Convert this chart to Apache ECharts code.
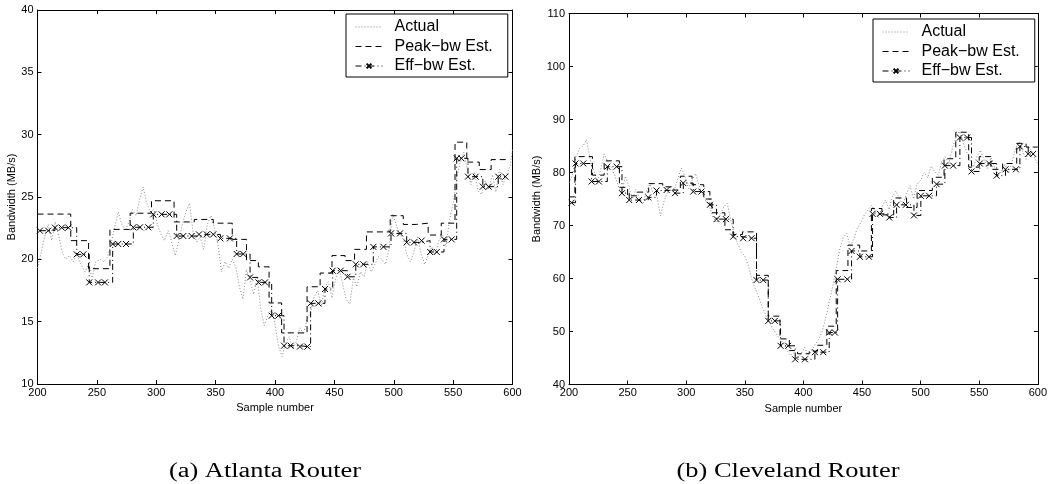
<!DOCTYPE html>
<html>
<head>
<meta charset="utf-8">
<script src="https://cdn.jsdelivr.net/npm/echarts@6/dist/echarts.min.js"></script>
<style>
  html, body { margin: 0; padding: 0; background: #fff; }
  #chart { width: 1050px; height: 484px; }
</style>
</head>
<body>
<div id="chart"></div>
<script>
  // sample range shared by both panels
  const xMin = 200, xMax = 600, xStep = 50

  // (a) Atlanta router
  const atlActual = [
    [200, 19.3], [203, 20.5], [206, 21.8], [209, 22.8], [212, 21.5], [215, 23.0], [218, 21.8], [221, 20.5],
    [224, 20.0], [227, 20.3], [230, 19.8], [233, 20.4], [236, 19.7], [240, 19.0], [243, 19.6], [246, 18.5],
    [249, 19.8], [253, 20.0], [256, 19.8], [259, 20.2], [262, 21.3], [265, 22.6], [268, 23.8], [271, 22.8],
    [274, 22.3], [277, 23.0], [280, 24.0], [283, 23.5], [286, 24.8], [289, 25.8], [292, 24.5], [295, 23.8],
    [298, 24.0], [301, 22.8], [304, 22.0], [307, 21.5], [310, 22.3], [313, 21.4], [316, 20.3], [319, 21.5],
    [322, 22.8], [325, 23.8], [328, 24.5], [331, 22.2], [334, 21.4], [337, 21.8], [340, 20.8], [343, 22.8],
    [346, 23.5], [349, 22.5], [352, 21.2], [355, 19.0], [358, 19.8], [361, 19.3], [364, 20.0], [367, 19.4],
    [370, 17.8], [373, 16.8], [376, 19.2], [379, 18.3], [382, 17.2], [385, 18.5], [388, 16.0], [391, 14.7],
    [394, 15.5], [397, 16.0], [400, 14.8], [403, 13.0], [406, 12.2], [409, 13.3], [412, 13.8], [415, 12.8],
    [418, 13.4], [421, 14.5], [424, 14.0], [427, 15.2], [430, 15.8], [433, 17.0], [436, 17.5], [439, 16.2],
    [442, 17.8], [445, 18.2], [448, 16.9], [451, 18.4], [454, 19.3], [457, 18.0], [460, 16.8], [463, 16.4],
    [466, 18.5], [469, 17.8], [472, 19.0], [475, 18.6], [478, 19.8], [481, 19.0], [484, 19.6], [487, 20.2],
    [490, 20.0], [493, 19.6], [496, 20.8], [499, 23.6], [502, 22.8], [505, 22.0], [508, 21.6], [511, 20.4],
    [514, 19.8], [517, 20.6], [520, 21.8], [523, 20.5], [526, 19.6], [529, 20.3], [532, 21.0], [535, 20.4],
    [538, 21.5], [541, 22.0], [544, 21.0], [547, 23.2], [550, 24.5], [553, 26.5], [556, 27.8], [559, 28.6],
    [562, 27.2], [565, 26.0], [568, 27.0], [571, 25.5], [574, 25.2], [577, 26.3], [580, 25.6], [583, 26.8],
    [586, 25.4], [589, 27.2], [592, 26.0], [595, 26.8], [598, 27.5], [600, 28.8]
  ]
  const atlPeak = [
    [200, 23.63], [228, 21.5], [243, 19.25], [261, 22.4], [278, 23.7], [296, 24.7], [315, 23.0], [332, 23.2],
    [348, 22.9], [364, 21.6], [376, 19.9], [386, 19.4], [395, 16.5], [405.6, 14.1], [427, 17.8], [438, 18.9],
    [448, 20.3], [459, 19.9], [467, 20.8], [477, 22.2], [497, 23.5], [508, 22.8], [519, 22.9], [529, 21.95],
    [540, 22.9], [551.6, 29.4], [561.5, 27.8], [572, 27.2], [582, 28.0], [596, 28.0]
  ]
  const atlEff = [
    [202, 22.3], [209, 22.3], [214.7, 22.54], [220.4, 22.54], [226, 22.54], [233, 20.4], [238.6, 20.4],
    [243.6, 18.15], [251, 18.15], [256.8, 18.15], [263.3, 21.23], [268, 21.23], [274.5, 21.23],
    [280.7, 22.57], [286.3, 22.57], [293.3, 22.57], [297.5, 23.61], [304.5, 23.61], [311, 23.61],
    [317.2, 21.87], [322.8, 21.87], [329.8, 21.87], [336, 22.0], [342.5, 22.0], [348, 22.0], [354, 21.68],
    [362, 21.68], [367.7, 20.43], [373.3, 20.43], [379, 18.55], [386, 18.15], [391.6, 18.15], [397.2, 15.48],
    [402.8, 15.48], [407.6, 13.07], [413.2, 13.07], [421, 13.0], [427.3, 13.0], [430, 16.47], [436.5, 16.47],
    [442.1, 17.62], [448.6, 19.09], [455.3, 19.09], [461, 18.6], [468, 19.6], [474.4, 19.6], [482.8, 21.0],
    [491.3, 21.0], [497.7, 22.08], [505.3, 22.08], [510.9, 21.36], [517, 21.36], [523.5, 21.5],
    [530.6, 20.59], [536.2, 20.59], [542.3, 21.6], [548.8, 21.6], [553, 28.1], [557, 28.1], [562.5, 26.63],
    [569, 26.63], [575, 25.83], [580, 25.83], [588, 26.63], [594, 26.63]
  ]

  // (b) Cleveland router
  const cleActual = [
    [200, 78.0], [203, 79.5], [206, 83.0], [209, 84.5], [212, 85.0], [215, 86.2], [218, 82.5], [221, 80.5],
    [224, 78.2], [227, 80.5], [230, 83.5], [233, 82.0], [236, 81.0], [239, 79.5], [242, 77.5], [245, 76.0],
    [248, 79.3], [251, 77.5], [254, 75.0], [257, 76.8], [260, 75.2], [263, 74.0], [266, 76.5], [269, 77.8],
    [272, 76.0], [275, 75.5], [278, 71.8], [281, 74.5], [284, 76.2], [287, 77.5], [290, 76.8], [293, 79.0],
    [296, 80.8], [299, 79.2], [302, 77.0], [305, 78.5], [308, 79.8], [311, 77.5], [314, 75.8], [317, 74.5],
    [320, 73.5], [323, 71.5], [326, 70.5], [329, 72.0], [332, 73.5], [335, 74.2], [338, 71.0], [341, 68.5],
    [344, 66.5], [347, 65.0], [350, 64.2], [353, 62.5], [356, 59.8], [359, 58.0], [362, 56.5], [365, 54.5],
    [368, 53.0], [371, 51.8], [374, 50.5], [377, 49.5], [380, 48.5], [383, 47.8], [386, 46.5], [389, 45.5],
    [392, 46.0], [395, 44.8], [398, 45.8], [401, 47.0], [404, 45.5], [407, 46.3], [410, 47.5], [413, 48.5],
    [416, 50.0], [419, 52.5], [422, 55.5], [425, 58.5], [428, 62.0], [431, 65.5], [434, 67.8], [437, 68.5],
    [440, 66.0], [443, 67.5], [446, 69.5], [449, 70.5], [452, 72.0], [455, 73.0], [458, 73.8], [461, 72.8],
    [464, 71.5], [467, 73.5], [470, 74.8], [473, 73.0], [476, 75.5], [479, 76.5], [482, 75.0], [485, 74.0],
    [488, 76.0], [491, 77.5], [494, 75.0], [497, 77.8], [500, 78.5], [503, 80.0], [506, 79.0], [509, 81.2],
    [512, 80.2], [515, 79.5], [518, 82.0], [521, 83.0], [524, 81.5], [527, 84.5], [530, 86.5], [533, 87.8],
    [536, 86.0], [539, 84.0], [542, 82.5], [545, 81.0], [548, 83.0], [551, 84.2], [554, 82.5], [557, 80.8],
    [560, 82.8], [563, 81.0], [566, 79.5], [569, 80.2], [572, 81.5], [575, 79.8], [578, 82.0], [581, 84.5],
    [584, 85.8], [587, 84.0], [590, 82.5], [593, 84.8], [596, 83.5], [599, 82.0], [600, 81.5]
  ]
  const clePeak = [
    [200, 75.4], [205, 83.0], [220, 79.5], [230, 82.2], [243, 77.2], [250, 75.6], [258, 76.3], [268, 77.9],
    [280, 77.3], [288, 76.7], [295, 79.3], [305, 77.7], [315, 75.0], [322, 72.4], [333, 69.2], [340, 68.3],
    [348, 68.8], [360, 60.6], [370, 52.9], [380, 48.6], [388, 46.4], [395, 45.8], [405, 46.3], [412, 47.4],
    [420, 51.0], [428, 61.5], [438, 66.3], [448, 65.2], [458, 73.2], [467, 72.0], [477, 75.2], [488, 73.4],
    [497, 76.6], [510, 79.1], [520, 82.6], [530, 87.6], [541, 81.0], [550, 83.0], [560, 80.6], [570, 81.7],
    [582, 85.5], [590, 84.8], [600, 84.8]
  ]
  const cleEff = [
    [202.2, 74.3], [205.6, 81.7], [212.2, 81.7], [219.3, 78.3], [225.5, 78.3], [232.7, 81.1], [240.6, 81.1],
    [245.2, 76.1], [251.4, 74.8], [259.7, 74.8], [267.6, 75.3], [274.7, 76.6], [283.3, 76.7], [290.4, 76.1],
    [297.5, 78.0], [306, 76.4], [313, 76.4], [320.2, 73.9], [325.9, 71.2], [333.9, 71.2], [340.1, 67.9],
    [348.6, 67.6], [355.8, 67.6], [360, 59.7], [365.7, 59.7], [370, 52.0], [375.6, 52.0], [380.5, 47.3],
    [387, 47.3], [393, 44.75], [401.3, 44.75], [409.8, 46.1], [416.9, 46.1], [422, 49.8], [426.9, 49.8],
    [429.2, 59.85], [437.4, 59.85], [441.1, 65.2], [448.2, 64.1], [455.9, 64.1], [459, 72.2], [465.3, 72.2],
    [473.2, 71.5], [479.5, 73.9], [487.4, 73.9], [494.3, 71.9], [500.2, 75.6], [507.3, 75.6], [513.6, 77.8],
    [520.7, 81.3], [527.8, 81.3], [533.5, 86.6], [539.7, 86.6], [543.4, 80.2], [550.5, 81.7], [558.5, 81.7],
    [564.8, 79.4], [572.4, 80.6], [581.3, 80.6], [584.7, 84.9], [591.8, 83.5], [596, 83.5]
  ]

  const seriesNames = ['Actual', 'Peak\u2212bw Est.', 'Eff\u2212bw Est.']
  const captions = ['(a) Atlanta Router', '(b) Cleveland Router']

  const sans = 'Liberation Sans, Arial, sans-serif'
  const crossMark = 'path://M0,0L10,10M10,0L0,10'

  function axisPair(gridIndex, min, max, interval, isX, gap) {
    const base = {
      gridIndex: gridIndex,
      type: 'value',
      min: min,
      max: max,
      interval: interval,
      splitLine: { show: false },
      axisLine: { show: true, onZero: false, lineStyle: { color: '#000', width: 1 } },
      axisTick: { show: true, inside: true, length: 4, lineStyle: { color: '#000' } }
    }
    const main = Object.assign({}, base, {
      position: isX ? 'bottom' : 'left',
      name: isX ? 'Sample number' : 'Bandwidth (MB/s)',
      nameLocation: 'middle',
      nameGap: gap,
      nameTextStyle: { fontFamily: sans, fontSize: 11, color: '#000' },
      axisLabel: { fontFamily: sans, fontSize: 11, color: '#000', margin: isX ? 3 : 4 }
    })
    const mirror = Object.assign({}, base, {
      position: isX ? 'top' : 'right',
      axisLabel: { show: false }
    })
    return [main, mirror]
  }

  function buildSeries(gridIndex, actual, peak, eff) {
    // axis index: 2 axes per grid (main + mirror)
    const ax = gridIndex * 2
    return [{
      name: seriesNames[0],
      type: 'line',
      xAxisIndex: ax, yAxisIndex: ax,
      symbol: 'none',
      lineStyle: { color: '#888', width: 1, type: [1, 2] },
      itemStyle: { color: '#888' },
      data: actual
    }, {
      name: seriesNames[1],
      type: 'line',
      step: 'end',
      xAxisIndex: ax, yAxisIndex: ax,
      symbol: 'none',
      lineStyle: { color: '#000', width: 1, type: [6, 4] },
      itemStyle: { color: '#000' },
      data: peak
    }, {
      name: seriesNames[2],
      type: 'line',
      step: 'end',
      xAxisIndex: ax, yAxisIndex: ax,
      symbol: crossMark,
      symbolSize: 6,
      showAllSymbol: true,
      lineStyle: { color: '#000', width: 1, type: [6, 3, 1, 3] },
      itemStyle: { color: 'transparent', borderColor: '#000', borderWidth: 1 },
      data: eff
    }]
  }

  function buildLegend(left, top) {
    return {
      data: [
        { name: seriesNames[0], itemStyle: { opacity: 0 } },
        { name: seriesNames[1], itemStyle: { opacity: 0 } },
        { name: seriesNames[2] }
      ],
      orient: 'vertical',
      left: left,
      top: top,
      padding: [5, 15, 3, 9],
      itemWidth: 27,
      itemHeight: 6,
      itemGap: 3.5,
      backgroundColor: '#fff',
      borderColor: '#000',
      borderWidth: 1,
      borderRadius: 0,
      selectedMode: false,
      lineStyle: { width: 1 },
      textStyle: { fontFamily: sans, fontSize: 16, color: '#000', lineHeight: 16, padding: [0, 0, 0, 7] }
    }
  }

  const atlX = axisPair(0, xMin, xMax, xStep, true, 15)
  const atlY = axisPair(0, 10, 40, 5, false, 16)
  const cleX = axisPair(1, xMin, xMax, xStep, true, 15)
  const cleY = axisPair(1, 40, 110, 10, false, 21)

  const chart = echarts.init(document.getElementById('chart'), null, { renderer: 'canvas' })
  chart.setOption({
    animation: false,
    backgroundColor: '#fff',
    grid: [
      { left: 37.5, top: 10, width: 475, height: 374 },
      { left: 569, top: 13.5, width: 469, height: 371 }
    ],
    xAxis: atlX.concat(cleX),
    yAxis: atlY.concat(cleY),
    legend: [buildLegend(346, 14), buildLegend(873, 19)],
    series: buildSeries(0, atlActual, atlPeak, atlEff).concat(buildSeries(1, cleActual, clePeak, cleEff)),
    graphic: [{
      type: 'text', x: 265, y: 472, scaleX: 1.32,
      style: { text: captions[0], font: '20px "Liberation Serif", "Times New Roman", serif', fill: '#000', textAlign: 'center', textVerticalAlign: 'middle' }
    }, {
      type: 'text', x: 788, y: 472, scaleX: 1.32,
      style: { text: captions[1], font: '20px "Liberation Serif", "Times New Roman", serif', fill: '#000', textAlign: 'center', textVerticalAlign: 'middle' }
    }]
  })
</script>
</body>
</html>
